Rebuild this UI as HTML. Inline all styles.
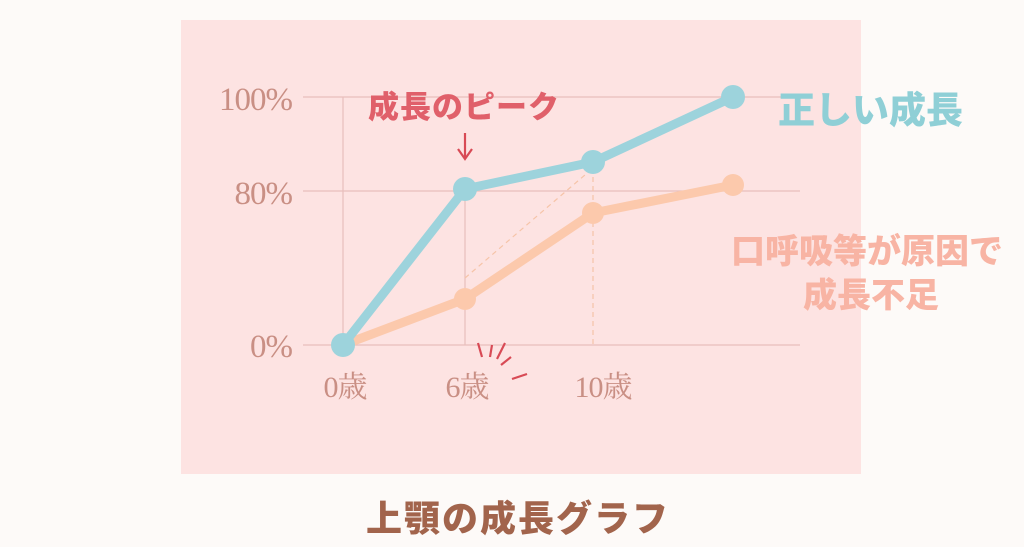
<!DOCTYPE html>
<html><head><meta charset="utf-8"><style>
html,body{margin:0;padding:0;background:#fdfaf8;}
body{width:1024px;height:547px;position:relative;overflow:hidden;font-family:"Liberation Sans","Noto Sans CJK JP",sans-serif;}
.panel{position:absolute;left:181px;top:20px;width:680px;height:454px;background:#fde3e2;}
.t{position:absolute;white-space:nowrap;font-weight:900;}
</style></head><body>
<div class="panel"></div>
<svg width="1024" height="547" style="position:absolute;left:0;top:0">
<g stroke="#e8bfbc" stroke-width="1.2">
<line x1="303" y1="97" x2="800" y2="97"/>
<line x1="303" y1="191" x2="800" y2="191"/>
<line x1="303" y1="345" x2="800" y2="345"/>
<line x1="343" y1="97" x2="343" y2="345"/>
<line x1="465" y1="189" x2="465" y2="345"/>
</g>
<g stroke="#f6c4a8" stroke-width="1.2" stroke-dasharray="5,4" fill="none">
<line x1="465" y1="278" x2="593" y2="168"/>
<line x1="593" y1="168" x2="593" y2="345"/>
</g>
<g font-family="Liberation Serif,serif" font-size="33" fill="#c98f84" text-anchor="end" letter-spacing="-1">
<text x="292" y="110">100%</text>
<text x="292" y="204">80%</text>
<text x="292" y="357">0%</text>
</g>
<g font-family="Liberation Serif,'Noto Serif CJK SC',serif" font-size="30" fill="#c98f84" text-anchor="middle" letter-spacing="-1">
<text x="345" y="397">0歳</text>
<text x="467" y="397">6歳</text>
<text x="603" y="397">10歳</text>
</g>
<polyline points="343,345 465,299 593,213 733,185" fill="none" stroke="#fcc9ac" stroke-width="9" stroke-linejoin="round"/>
<g fill="#fcc9ac"><circle cx="465" cy="299" r="11"/><circle cx="593" cy="213" r="11"/><circle cx="733" cy="185" r="11"/></g>
<polyline points="343,345 465,189 593,162 733,97" fill="none" stroke="#9dd3dc" stroke-width="9" stroke-linejoin="round"/>
<g fill="#9dd3dc"><circle cx="343" cy="345" r="12"/><circle cx="465" cy="189" r="12"/><circle cx="593" cy="162" r="12"/><circle cx="733" cy="97" r="12"/></g>
<g stroke="#d84a55" stroke-width="2.2" fill="none">
<line x1="465" y1="133" x2="465" y2="158"/><polyline points="458,149 465,159 472,149"/>
<line x1="478" y1="343" x2="482" y2="357"/><line x1="492" y1="345" x2="490" y2="357"/><line x1="505" y1="343" x2="497" y2="359"/><line x1="511" y1="357" x2="501" y2="365"/><line x1="527" y1="374" x2="512" y2="379"/>
</g>
</svg>
<div class="t" style="left:368px;top:82px;font-size:31px;color:#e0606a;letter-spacing:1px">成長のピーク</div>
<div class="t" style="left:778px;top:80px;font-size:37px;color:#8fcfd6;">正しい成長</div>
<div class="t" style="left:731px;top:224px;font-size:34px;color:#f8b4a4;">口呼吸等が原因で</div>
<div class="t" style="left:803px;top:268px;font-size:34px;color:#f8b4a4;">成長不足</div>
<div class="t" style="left:366px;top:490px;font-size:36px;color:#a2644c;letter-spacing:2px">上顎の成長グラフ</div>
</body></html>
